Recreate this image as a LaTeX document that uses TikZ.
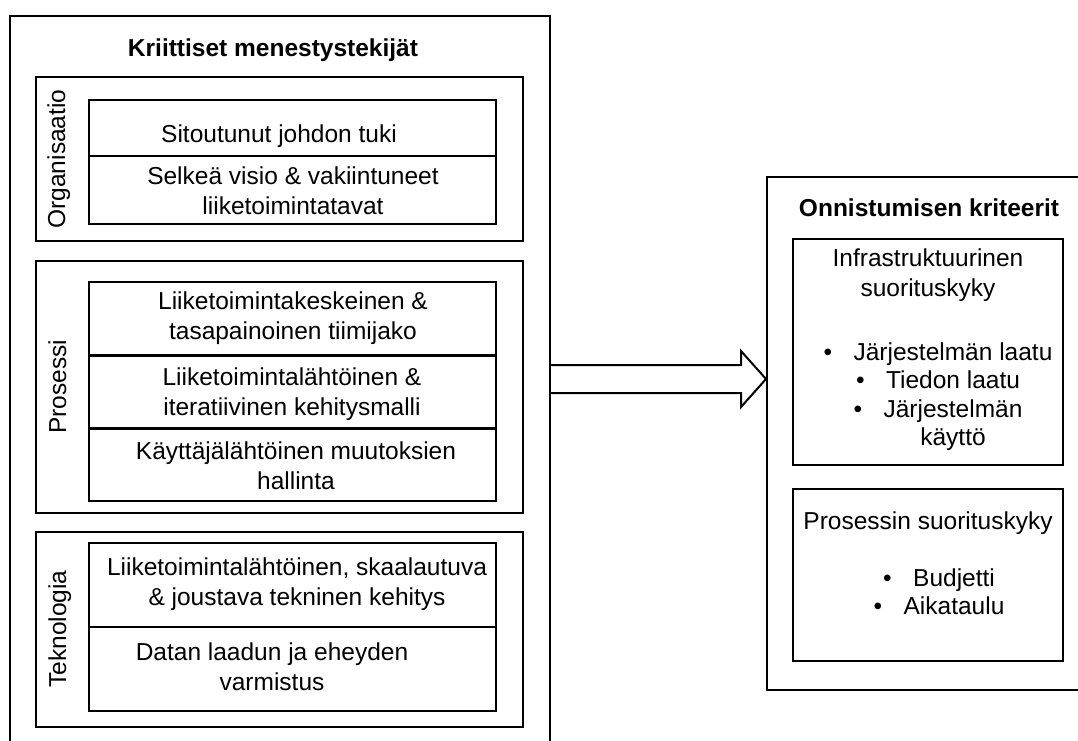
\documentclass[tikz,border=0pt]{standalone}
\usepackage{fontspec}
\setmainfont{Liberation Sans}
\usetikzlibrary{calc}
\newcommand{\bl}{\textbullet\hspace{21.5pt}}
\newcommand{\bph}{\hphantom{\textbullet\hspace{21.5pt}}}
\begin{document}
\begin{tikzpicture}[x=1pt,y=-1pt,line width=2pt,line join=miter,
  bigbox/.style={draw,line width=2pt,inner sep=0pt,anchor=north west},
  txt/.style={font=\fontsize{24.5}{30}\selectfont,align=center,inner sep=0pt},
  ttl/.style={font=\fontsize{24.5}{30}\selectfont\bfseries,align=center,inner sep=0pt},
  bul/.style={font=\fontsize{24.5}{28.5}\selectfont,align=center,inner sep=0pt},
  side/.style={font=\fontsize{24.5}{30}\selectfont,rotate=90,anchor=base,inner sep=0pt},
  fatarrow/.style={draw,line width=2pt,fill=white}]
\useasboundingbox (0,0) rectangle (1078,740);

% outer boxes
\node[bigbox,minimum width=540pt,minimum height=745pt] (L) at (9,15) {};
\node[bigbox,minimum width=330pt,minimum height=513pt] (R) at (766,176) {};

% titles
\node[ttl] (tL) at (273,50) {\strut Kriittiset menestystekijät};
\node[ttl] (tR) at (929,210) {\strut Onnistumisen kriteerit};

% Organisaatio
\draw (36,77) rectangle (523,241);
\draw (89,100) rectangle (496,224);
\draw (89,156) -- (496,156);
\node[side] (sO) at (65,159) {Organisaatio};
\node[txt] (o1) at (279,136) {\strut Sitoutunut johdon tuki};
\node[txt] (o2) at (293,193.5) {\strut Selkeä visio \& vakiintuneet\\\strut liiketoimintatavat};

% Prosessi
\draw (36,261) rectangle (523,513);
\draw (89,282) rectangle (496,354.5);
\draw (89,356) rectangle (496,427.5);
\draw (89,429) rectangle (496,501);
\node[side] (sP) at (66,387) {Prosessi};
\node[txt] (p1) at (293,318) {\strut Liiketoimintakeskeinen \&\\\strut tasapainoinen tiimijako};
\node[txt] (p2) at (292,394.5) {\strut Liiketoimintalähtöinen \&\\\strut iteratiivinen kehitysmalli};
\node[txt] (p3) at (296,468.5) {\strut Käyttäjälähtöinen muutoksien\\\strut hallinta};

% Teknologia
\draw (36,532) rectangle (523,727);
\draw (89,543) rectangle (496,711);
\draw (89,627) -- (496,627);
\node[side] (sT) at (66,629) {Teknologia};
\node[txt] (t1) at (297,584.5) {\strut Liiketoimintalähtöinen, skaalautuva\\\strut \& joustava tekninen kehitys};
\node[txt] (t2) at (272,669) {\strut Datan laadun ja eheyden\\\strut varmistus};

% right side
\draw (793,239) rectangle (1063,465);
\draw (793,489) rectangle (1063,661);
\node[txt] (r1) at (928,275) {\strut Infrastruktuurinen\\\strut suorituskyky};
\node[bul] (r2) at (938,397.5) {\strut\bl Järjestelmän laatu\\\strut\bl Tiedon laatu\\\strut\bl Järjestelmän\\\strut\bph käyttö};
\node[txt] (r3) at (928,523) {\strut Prosessin suorituskyky};
\node[bul] (r4) at (939,595) {\strut\bl Budjetti\\\strut\bl Aikataulu};

% fat arrow
\coordinate (aS) at (L.east |- 0,379);
\coordinate (aE) at (R.west |- 0,379);
\draw[fatarrow] ($(aS)+(0,-14)$) -- ($(aE)+(-25,-14)$) -- ($(aE)+(-25,-28)$) -- (aE)
  -- ($(aE)+(-25,28)$) -- ($(aE)+(-25,14)$) -- ($(aS)+(0,14)$);
\end{tikzpicture}
\end{document}
